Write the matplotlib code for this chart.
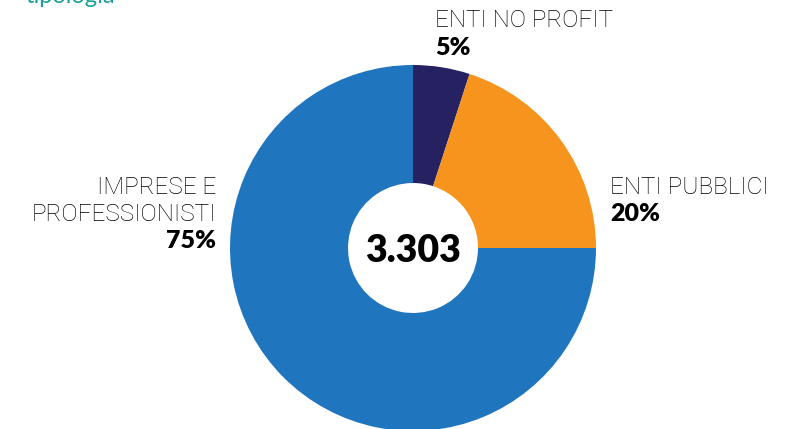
"""
Donut chart: enti per tipologia
"""

import matplotlib.pyplot as plt

W, H = 798, 429

categories = ["ENTI NO PROFIT", "ENTI PUBBLICI", "IMPRESE E\nPROFESSIONISTI"]
shares = [5, 20, 75]
share_labels = ["5%", "20%", "75%"]
total_label = "3.303"
title = "tipologia"

colors = ["#262262", "#F7941D", "#1F75BE"]


def py(y):
    # pixel row (from top) -> data y
    return H - y


fig = plt.figure(figsize=(W / 100, H / 100), dpi=100)
ax = fig.add_axes([0, 0, 1, 1])

cx, cy, r_out, r_in = 413, 248, 183, 65
ax.pie(
    shares,
    colors=colors,
    startangle=90,
    counterclock=False,
    center=(cx, py(cy)),
    radius=r_out,
    wedgeprops=dict(width=r_out - r_in, edgecolor="none"),
    frame=True,
)
ax.set_xlim(0, W)
ax.set_ylim(0, H)
ax.set_aspect("equal")
ax.axis("off")

label_font = dict(family=["Roboto", "DejaVu Sans"], fontweight="light", fontsize=17.5, color="#000000")
num_font = dict(family=["Lato", "DejaVu Sans"], fontweight="heavy", fontsize=18, color="#000000")

# ENTI NO PROFIT
ax.text(435, py(27), categories[0], ha="left", va="baseline", **label_font)
ax.text(435, py(55), share_labels[0], ha="left", va="baseline", **num_font)

# ENTI PUBBLICI
ax.text(610, py(194), categories[1], ha="left", va="baseline", **label_font)
ax.text(610, py(221), share_labels[1], ha="left", va="baseline", **num_font)

# IMPRESE E PROFESSIONISTI
line1, line2 = categories[2].split("\n")
ax.text(216, py(194), line1, ha="right", va="baseline", **label_font)
ax.text(216, py(221), line2, ha="right", va="baseline", **label_font)
ax.text(216, py(248), share_labels[2], ha="right", va="baseline", **num_font)

# center total
ax.text(cx, py(262), total_label, ha="center", va="baseline",
        family=["Lato", "DejaVu Sans"], fontweight="heavy", fontsize=27, color="#000000")

# title, cut off at the top as in the source
ax.text(25, py(3), title, ha="left", va="baseline",
        family=["Lato", "DejaVu Sans"], fontsize=17, color="#1A9E9A")

plt.savefig("out.png", dpi=100)
plt.close(fig)
